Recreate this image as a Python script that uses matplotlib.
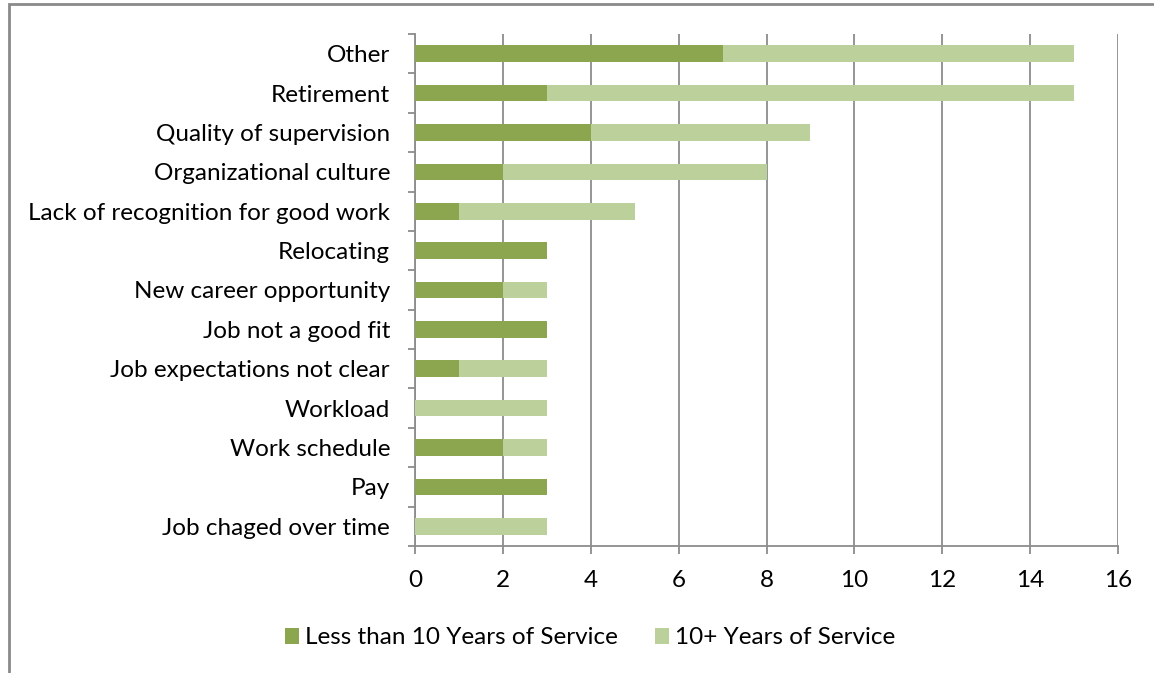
import matplotlib
matplotlib.use("Agg")
import matplotlib.pyplot as plt
from matplotlib.patches import Rectangle

categories = ["Other", "Retirement", "Quality of supervision", "Organizational culture",
              "Lack of recognition for good work", "Relocating", "New career opportunity",
              "Job not a good fit", "Job expectations not clear", "Workload",
              "Work schedule", "Pay", "Job chaged over time"]
less_than_10 = [7, 3, 4, 2, 1, 3, 2, 3, 1, 0, 2, 3, 0]
ten_plus = [8, 12, 5, 6, 4, 0, 1, 0, 2, 3, 1, 0, 3]
series_names = ["Less than 10 Years of Service", "10+ Years of Service"]
xticks = [0, 2, 4, 6, 8, 10, 12, 14, 16]

plt.rcParams['font.family'] = ['Lato', 'DejaVu Sans']
dark = "#8BA64E"
light = "#BBD09A"
axis_gray = "#8C8C8C"
fs = 17.5

fig = plt.figure(figsize=(11.54, 6.73), dpi=100)
ax = fig.add_axes([415/1154, 1-546/673, (1118-415)/1154, (546-34)/673])

n = len(categories)
ypos = list(range(n))
ax.barh(ypos, less_than_10, height=0.42, color=dark, label=series_names[0], zorder=3)
ax.barh(ypos, ten_plus, left=less_than_10, height=0.42, color=light, label=series_names[1], zorder=3)

ax.set_ylim(n - 0.5, -0.5)
ax.set_xlim(0, 16)
ax.set_xticks(xticks)
ax.set_yticks(ypos)
ax.set_yticklabels(categories)
ax.set_yticks([i - 0.5 for i in range(n + 1)], minor=True)
ax.tick_params(axis='y', which='major', length=0, pad=18, labelsize=fs)
ax.tick_params(axis='y', which='minor', length=5, width=1.3, color=axis_gray)
ax.tick_params(axis='x', which='major', length=6, width=1.3, color=axis_gray, labelsize=fs, pad=11)
ax.xaxis.grid(True, color=axis_gray, linewidth=1.3, zorder=0)
for s in ["top", "right"]:
    ax.spines[s].set_visible(False)
for s in ["left", "bottom"]:
    ax.spines[s].set_color(axis_gray)
    ax.spines[s].set_linewidth(1.3)

leg = fig.legend(loc='center', bbox_to_anchor=(590/1154, 1-638/673), ncol=2, frameon=False,
                 fontsize=fs, handlelength=0.6, handleheight=0.6, handletextpad=0.25,
                 columnspacing=1.5)

fig.patches.append(Rectangle((8.5/1154, -0.1), 1.2, 1 - 4.5/673 + 0.1, transform=fig.transFigure,
                             fill=False, edgecolor="#8A8A8A", linewidth=2))

fig.savefig("out.png", dpi=100, facecolor="white")
